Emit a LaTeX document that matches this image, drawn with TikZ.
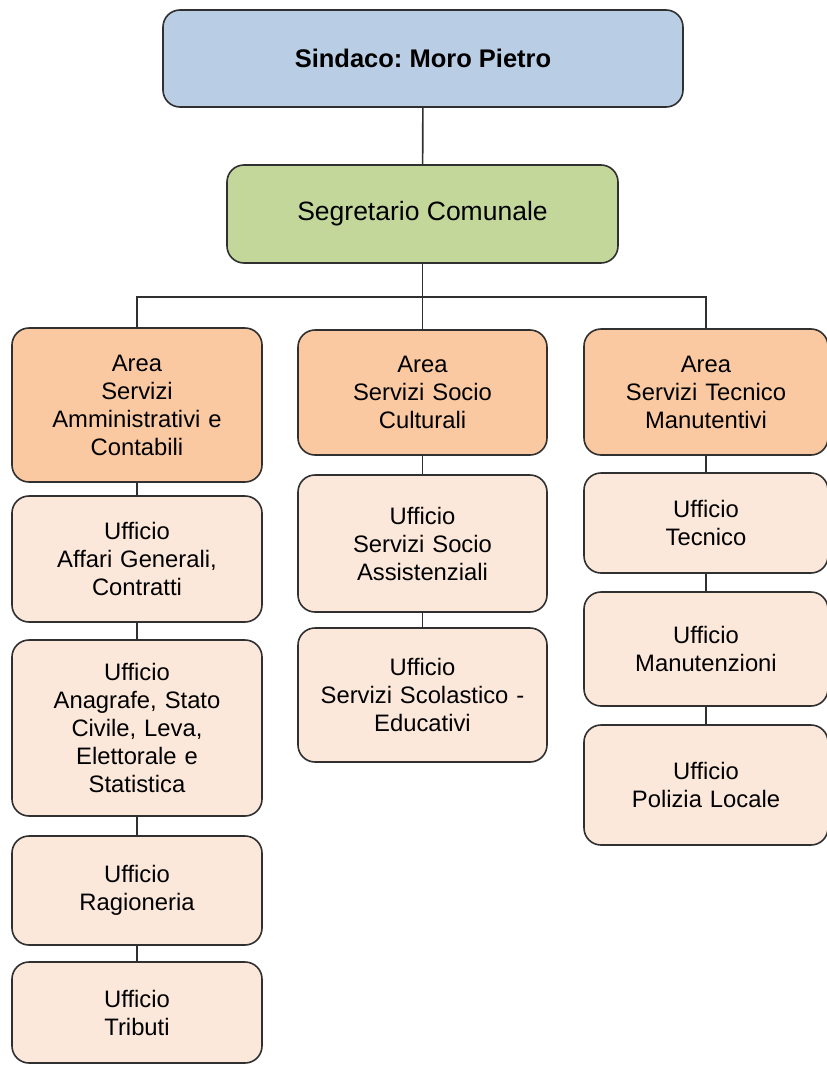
\documentclass[tikz,border=0pt]{standalone}
\usepackage{fontspec}
\setmainfont{Liberation Sans}
\usetikzlibrary{positioning}

\definecolor{sindacoblue}{HTML}{B9CDE5}
\definecolor{segrgreen}{HTML}{C4D79B}
\definecolor{areaorange}{HTML}{FAC9A1}
\definecolor{uffpeach}{HTML}{FCE8DA}
\definecolor{edgegray}{HTML}{303030}

\frenchspacing

\begin{document}
\begin{tikzpicture}[
    x=1pt, y=1pt,
    every node/.style={
        draw=edgegray, line width=1.6pt, rounded corners=17pt,
        align=center, inner sep=2pt, outer sep=0pt
    },
    sindaco/.style={
        fill=sindacoblue,
        minimum width=520pt, minimum height=97pt,
        font=\fontsize{25.5}{30}\selectfont\bfseries
    },
    segretario/.style={
        fill=segrgreen,
        minimum width=391pt, minimum height=98pt,
        font=\fontsize{26.5}{31}\selectfont
    },
    area/.style={
        fill=areaorange, text width=238pt,
        font=\fontsize{23.8}{28}\selectfont
    },
    ufficio/.style={
        fill=uffpeach, text width=238pt,
        font=\fontsize{23.8}{28}\selectfont
    },
    link/.style={draw=edgegray, line width=1.6pt}
]
\useasboundingbox (0,0) rectangle (827,-1068);

% ===== VERTICE =====
\node[sindaco] (sindaco) at (423,-58.5) {Sindaco: Moro Pietro};
\node[segretario] (segretario) at (422.5,-214) {Segretario Comunale};

% ===== AREE =====
\node[area, minimum width=250pt, minimum height=154pt, anchor=north] (area1) at (137,-328)
{Area\\Servizi\\Amministrativi e\\Contabili};
\node[area, minimum width=249pt, minimum height=125pt, anchor=north] (area2) at (422.5,-330)
{Area\\Servizi Socio\\Culturali};
\node[area, minimum width=244pt, minimum height=126pt, anchor=north] (area3) at (706,-329)
{Area\\Servizi Tecnico\\Manutentivi};

% ===== UFFICI: AREA 1 =====
\node[ufficio, minimum width=250pt, minimum height=126pt, below=14pt of area1] (affari)
{Ufficio\\Affari Generali,\\Contratti};
\node[ufficio, minimum width=250pt, minimum height=176pt, below=18pt of affari] (anagrafe)
{Ufficio\\Anagrafe, Stato\\Civile, Leva,\\Elettorale e\\Statistica};
\node[ufficio, minimum width=250pt, minimum height=109pt, below=20pt of anagrafe] (ragioneria)
{Ufficio\\Ragioneria};
\node[ufficio, minimum width=250pt, minimum height=101pt, below=17pt of ragioneria] (tributi)
{Ufficio\\Tributi};

% ===== UFFICI: AREA 2 =====
\node[ufficio, minimum width=249pt, minimum height=137pt, below=20pt of area2] (assistenza)
{Ufficio\\Servizi Socio\\Assistenziali};
\node[ufficio, minimum width=249pt, minimum height=134pt, below=16pt of assistenza] (scuola)
{Ufficio\\Servizi Scolastico -\\Educativi};

% ===== UFFICI: AREA 3 =====
\node[ufficio, minimum width=244pt, minimum height=100pt, below=18pt of area3] (tecnico)
{Ufficio\\Tecnico};
\node[ufficio, minimum width=244pt, minimum height=114pt, below=19pt of tecnico] (manutenzioni)
{Ufficio\\Manutenzioni};
\node[ufficio, minimum width=244pt, minimum height=120pt, below=19pt of manutenzioni] (polizia)
{Ufficio\\Polizia Locale};

% ===== COLLEGAMENTI =====
\coordinate (bar) at (422.5,-297);
\draw[link] (sindaco) -- (segretario);
\draw[link] (segretario) -- (bar);
\draw[link] (area1.north) |- (bar) -| (area3.north);
\draw[link] (bar) -- (area2);

\draw[link] (area1) -- (affari);
\draw[link] (affari) -- (anagrafe);
\draw[link] (anagrafe) -- (ragioneria);
\draw[link] (ragioneria) -- (tributi);

\draw[link] (area2) -- (assistenza);
\draw[link] (assistenza) -- (scuola);

\draw[link] (area3) -- (tecnico);
\draw[link] (tecnico) -- (manutenzioni);
\draw[link] (manutenzioni) -- (polizia);

\end{tikzpicture}
\end{document}
